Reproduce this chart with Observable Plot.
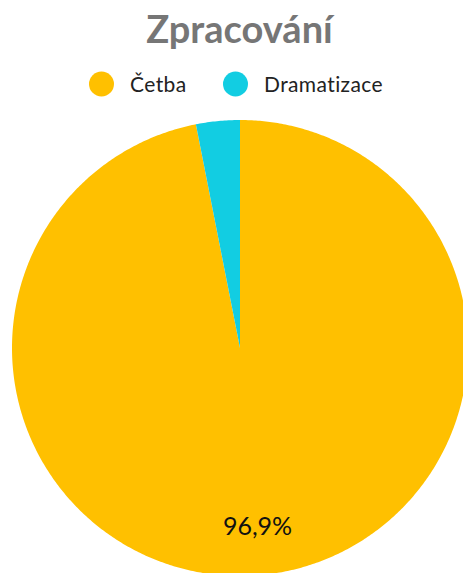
<!DOCTYPE html>
<html><head><meta charset="utf-8">
<script src="https://cdn.jsdelivr.net/npm/d3@7"></script>
<script src="https://cdn.jsdelivr.net/npm/@observablehq/plot@0.6"></script>
<style>
body{margin:0;background:#fff;}
#wrap{position:relative;width:463px;height:573px;overflow:hidden;background:#fff;}
#wrap svg{position:absolute;left:0;top:0;}
</style>
</head><body>
<div id="wrap"></div>
<script>
const categories = ["Četba", "Dramatizace"];
const values = [96.9, 3.1];
const labels = ["96,9%", ""];
const colors = ["#FFC000", "#12CDE2"];
const title = "Zpracování";

const total = d3.sum(values);
const pts = [];
const labelData = [];
let acc = 0;
categories.forEach((c, i) => {
  const a0 = acc / total * 2 * Math.PI;
  acc += values[i];
  const a1 = acc / total * 2 * Math.PI;
  pts.push({cat: c, x: 0, y: 0});
  const n = Math.max(2, Math.ceil((a1 - a0) / (Math.PI / 360)));
  for (let k = 0; k <= n; k++) {
    const a = a0 + (a1 - a0) * k / n;
    pts.push({cat: c, x: Math.sin(a), y: Math.cos(a)});
  }
  pts.push({cat: c, x: 0, y: 0});
  const m = (a0 + a1) / 2;
  if (labels[i]) labelData.push({text: labels[i], x: 0.79 * Math.sin(m), y: 0.79 * Math.cos(m)});
});

const chart = Plot.plot({
  width: 463, height: 573,
  margin: 0,
  style: {background: "transparent", fontFamily: "Lato, sans-serif"},
  x: {domain: [-1, 1], range: [11.5, 467.5], axis: null},
  y: {domain: [-1, 1], range: [575.5, 119.5], axis: null},
  color: {domain: categories, range: colors},
  marks: [
    Plot.line(pts, {x: "x", y: "y", z: "cat", fill: "cat", stroke: null, curve: "linear"}),
    Plot.text(labelData, {x: "x", y: "y", text: "text", fontSize: 25, fill: "#111", textAnchor: "middle", lineAnchor: "middle"})
  ]
});
const wrap = document.getElementById("wrap");
wrap.appendChild(chart);

const ov = d3.select(wrap).append("svg").attr("width", 463).attr("height", 573)
  .style("font-family", "Lato, sans-serif");
ov.append("text").attr("x", 239.5).attr("y", 43).attr("text-anchor", "middle")
  .attr("font-weight", 700).attr("font-size", 38).attr("fill", "#767676").text(title);
const legX = [101.5, 235.5];
categories.forEach((c, i) => {
  ov.append("circle").attr("cx", legX[i]).attr("cy", 84).attr("r", 12.5).attr("fill", colors[i]);
  ov.append("text").attr("x", legX[i] + 28.5).attr("y", 92).attr("font-size", 21)
    .attr("letter-spacing", 0.4).attr("fill", "#222").text(c);
});
</script>
</body></html>
